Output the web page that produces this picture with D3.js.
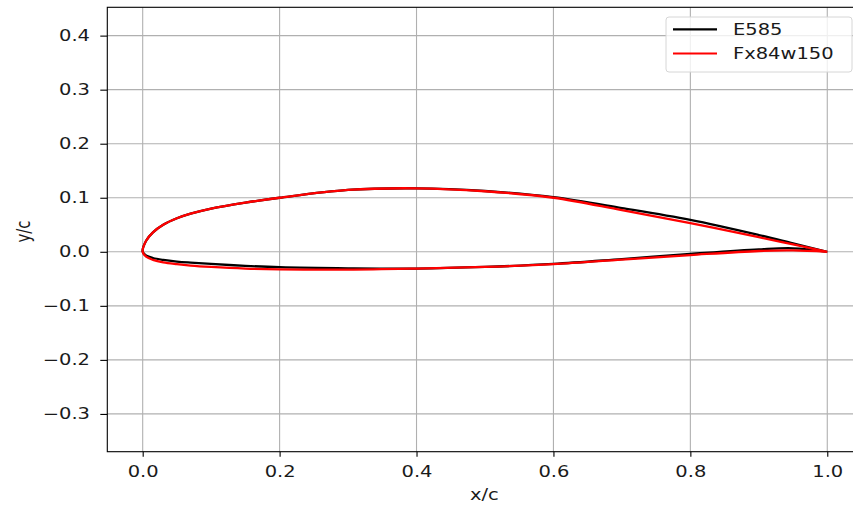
<!DOCTYPE html>
<html>
<head>
<meta charset="utf-8">
<script src="https://cdn.jsdelivr.net/npm/d3@7"></script>
<style>
  html, body { margin: 0; padding: 0; background: #fff; }
  svg text { font-family: "DejaVu Sans", sans-serif; }
</style>
</head>
<body>
<svg id="chart" width="853" height="506"></svg>
<script>
// ---- data ----
const upperX = [1.0, 0.95, 0.9, 0.8, 0.7, 0.6, 0.5, 0.4, 0.3, 0.2, 0.15, 0.1, 0.07, 0.05, 0.03, 0.015, 0.005, 0.0];
const lowerX = [0.0, 0.005, 0.015, 0.03, 0.05, 0.07, 0.1, 0.15, 0.2, 0.3, 0.4, 0.5, 0.6, 0.7, 0.8, 0.9, 0.95, 1.0];

const e585Upper = [0.0, 0.0155, 0.031, 0.059, 0.081, 0.101, 0.1125, 0.1175, 0.1145, 0.100, 0.091, 0.080, 0.0705, 0.062, 0.050, 0.036, 0.0205, 0.0];
const e585Lower = [0.0, -0.0068, -0.0115, -0.015, -0.018, -0.020, -0.0225, -0.026, -0.0285, -0.0305, -0.031, -0.028, -0.0225, -0.0135, -0.004, 0.0045, 0.0065, 0.0];

const fxUpper = [0.0, 0.0135, 0.027, 0.053, 0.077, 0.100, 0.112, 0.1175, 0.1145, 0.100, 0.091, 0.080, 0.0705, 0.062, 0.050, 0.036, 0.0205, 0.0];
const fxLower = [0.0, -0.009, -0.015, -0.0197, -0.023, -0.0255, -0.028, -0.031, -0.0325, -0.033, -0.031, -0.028, -0.023, -0.0145, -0.006, 0.0015, 0.0025, 0.0];

const seriesNames = ["E585", "Fx84w150"];
const seriesColors = ["#000000", "#ff0000"];
const xTicks = [0.0, 0.2, 0.4, 0.6, 0.8, 1.0];
const yTicks = [-0.3, -0.2, -0.1, 0.0, 0.1, 0.2, 0.3, 0.4];
const xLabel = "x/c";
const yLabel = "y/c";

// ---- layout ----
const SX = 1.3; // horizontal stretch of text seen in the reference
const pL = 107.3, pR = 861.5, pT = 7.3, pB = 451.7;

const svg = d3.select("#chart");
const x = d3.scaleLinear().domain([-0.0517, 1.05]).range([pL, pR]);
const y = d3.scaleLinear().domain([-0.3699, 0.4524]).range([pB, pT]);

// grid
const grid = svg.append("g");
grid.selectAll("line.gx").data(xTicks).join("line").attr("class", "gx")
  .attr("x1", d => x(d)).attr("x2", d => x(d))
  .attr("y1", pT).attr("y2", pB)
  .attr("stroke", "#b0b0b0").attr("stroke-width", 1.1);
grid.selectAll("line.gy").data(yTicks).join("line").attr("class", "gy")
  .attr("y1", d => y(d)).attr("y2", d => y(d))
  .attr("x1", pL).attr("x2", pR)
  .attr("stroke", "#b0b0b0").attr("stroke-width", 1.1);

// curves
function pts(xu, yu, xl, yl) {
  const a = xu.map((v, i) => [v, yu[i]]);
  const b = xl.map((v, i) => [v, yl[i]]).slice(1);
  return a.concat(b);
}
const line = d3.line().x(d => x(d[0])).y(d => y(d[1])).curve(d3.curveCatmullRom.alpha(0.5));
const data = [pts(upperX, e585Upper, lowerX, e585Lower), pts(upperX, fxUpper, lowerX, fxLower)];
svg.append("g").selectAll("path").data(data).join("path")
  .attr("d", line)
  .attr("fill", "none")
  .attr("stroke", (d, i) => seriesColors[i])
  .attr("stroke-width", 2.3)
  .attr("stroke-linejoin", "round");

// axes
const fmt = d3.format(".1f");
const xAxis = d3.axisBottom(x).tickValues(xTicks).tickFormat(fmt).tickSize(5).tickPadding(9.3).tickSizeOuter(0);
const yAxis = d3.axisLeft(y).tickValues(yTicks).tickFormat(fmt).tickSize(7).tickPadding(6.3).tickSizeOuter(0);

const gx = svg.append("g").attr("transform", `translate(0,${pB})`).call(xAxis);
const gy = svg.append("g").attr("transform", `translate(${pL},0)`).call(yAxis);
[gx, gy].forEach(g => {
  g.select(".domain").remove();
  g.selectAll(".tick line").attr("stroke", "#000").attr("stroke-width", 1.1);
  g.selectAll(".tick text")
    .attr("fill", "#1a1a1a")
    .style("font-size", "15px")
    .style("font-family", "'DejaVu Sans', sans-serif")
    .attr("transform", `scale(${SX},1)`);
});

// spines
svg.append("rect")
  .attr("x", pL).attr("y", pT)
  .attr("width", pR - pL).attr("height", pB - pT)
  .attr("fill", "none").attr("stroke", "#000").attr("stroke-width", 1.1);

// axis labels
svg.append("text")
  .attr("transform", `translate(${(pL + pR) / 2},500) scale(${SX},1)`)
  .attr("text-anchor", "middle").style("font-size", "15px").attr("fill", "#1a1a1a")
  .text(xLabel);
svg.append("text")
  .attr("transform", `translate(29.5,231.5) scale(${SX},1) rotate(-90)`)
  .attr("text-anchor", "middle").style("font-size", "15px").attr("fill", "#1a1a1a")
  .text(yLabel);

// legend
const lg = svg.append("g");
lg.append("rect")
  .attr("x", 666).attr("y", 17).attr("width", 186).attr("height", 55).attr("rx", 3)
  .attr("fill", "#fff").attr("fill-opacity", 0.8)
  .attr("stroke", "#d6d6d6").attr("stroke-width", 1);
seriesNames.forEach((name, i) => {
  const yy = 29.3 + i * 24.2;
  lg.append("line")
    .attr("x1", 673).attr("x2", 717).attr("y1", yy).attr("y2", yy)
    .attr("stroke", seriesColors[i]).attr("stroke-width", 2.2);
  lg.append("text")
    .attr("transform", `translate(733,${yy + 5.5}) scale(${SX},1)`)
    .style("font-size", "15px").attr("fill", "#1a1a1a")
    .text(name);
});
</script>
</body>
</html>
